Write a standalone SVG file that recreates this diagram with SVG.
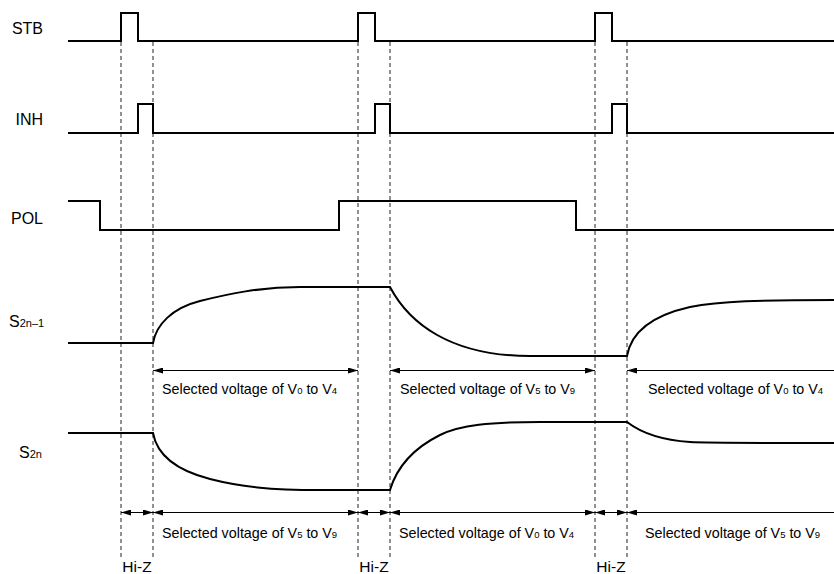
<svg xmlns="http://www.w3.org/2000/svg" width="834" height="574" viewBox="0 0 834 574">
<style>
  .sig{fill:none;stroke:#000;stroke-width:2;stroke-linejoin:miter}
  .dash{fill:none;stroke:#222;stroke-width:1;stroke-dasharray:4 3}
  .arr{fill:none;stroke:#000;stroke-width:1;marker-start:url(#ah);marker-end:url(#ah)}
  .arr1{fill:none;stroke:#000;stroke-width:1;marker-start:url(#ah)}
  .lbl{font-family:"Liberation Sans",Arial,sans-serif;font-size:16px;fill:#000}
  .txt{font-family:"Liberation Sans",Arial,sans-serif;font-size:14.3px;fill:#000}
  .sub{font-size:9.5px}
  .lsub{font-size:11px}
</style>
<defs>
  <marker id="ah" viewBox="0 0 10 6" refX="10" refY="3" markerWidth="10" markerHeight="6" orient="auto-start-reverse" markerUnits="userSpaceOnUse">
    <path d="M0,0 L10,3 L0,6 z" fill="#000"/>
  </marker>
</defs>
<rect width="834" height="574" fill="#fff"/>

<g id="connectors">
  <line class="dash" x1="121" y1="42" x2="121" y2="557"/>
  <line class="dash" x1="153" y1="42" x2="153" y2="557"/>
  <line class="dash" x1="358" y1="42" x2="358" y2="557"/>
  <line class="dash" x1="390" y1="42" x2="390" y2="557"/>
  <line class="dash" x1="595" y1="42" x2="595" y2="557"/>
  <line class="dash" x1="627" y1="42" x2="627" y2="557"/>
  <line class="arr" x1="153" y1="370.5" x2="358" y2="370.5"/>
  <line class="arr" x1="390" y1="370.5" x2="595" y2="370.5"/>
  <line class="arr1" x1="627" y1="370.5" x2="834" y2="370.5"/>
  <line class="arr" x1="121" y1="512.5" x2="153" y2="512.5"/>
  <line class="arr" x1="153" y1="512.5" x2="358" y2="512.5"/>
  <line class="arr" x1="358" y1="512.5" x2="390" y2="512.5"/>
  <line class="arr" x1="390" y1="512.5" x2="595" y2="512.5"/>
  <line class="arr" x1="595" y1="512.5" x2="627" y2="512.5"/>
  <line class="arr1" x1="627" y1="512.5" x2="834" y2="512.5"/>
</g>

<g id="STB">
  <text class="lbl" x="43" y="33.5" text-anchor="end">STB</text>
  <path class="sig" d="M68,41 H121 V13 H138 V41 H358 V13 H375 V41 H595 V13 H612 V41 H834"/>
</g>
<g id="INH">
  <text class="lbl" x="43" y="125" text-anchor="end">INH</text>
  <path class="sig" d="M68,133 H138 V104 H153 V133 H375 V104 H390 V133 H612 V104 H627 V133 H834"/>
</g>
<g id="POL">
  <text class="lbl" x="43" y="223.5" text-anchor="end">POL</text>
  <path class="sig" d="M68,201 H100 V230 H339 V201 H576 V230 H834"/>
</g>
<g id="S2n-1">
  <text class="lbl" x="9" y="326.5">S<tspan class="lsub">2n–1</tspan></text>
  <path class="sig" d="M68,343 H153 C156,325 172,308 200,301 C228,294 260,287 300,287 H390 C409,323 450,356 530,356 H627 C631,333 650,316 690,307 C720,301 760,300 834,300"/>
</g>
<g id="S2n">
  <text class="lbl" x="19" y="457.5">S<tspan class="lsub">2n</tspan></text>
  <path class="sig" d="M68,433 H153 C157,455 175,470 210,479 C240,486.7 270,490 320,490 H390 C396,470 410,450 440,435 C460,425 490,422 540,422 H627 C640,432 660,440 690,442 C710,443 740,443 834,443"/>
</g>

<g id="labels-upper">
  <text class="txt" x="162" y="393.5">Selected voltage of V<tspan class="sub">0</tspan> to V<tspan class="sub">4</tspan></text>
  <text class="txt" x="400" y="393.5">Selected voltage of V<tspan class="sub">5</tspan> to V<tspan class="sub">9</tspan></text>
  <text class="txt" x="648" y="393.5">Selected voltage of V<tspan class="sub">0</tspan> to V<tspan class="sub">4</tspan></text>
</g>
<g id="labels-lower">
  <text class="txt" x="162" y="538">Selected voltage of V<tspan class="sub">5</tspan> to V<tspan class="sub">9</tspan></text>
  <text class="txt" x="399" y="538">Selected voltage of V<tspan class="sub">0</tspan> to V<tspan class="sub">4</tspan></text>
  <text class="txt" x="645" y="538">Selected voltage of V<tspan class="sub">5</tspan> to V<tspan class="sub">9</tspan></text>
</g>
<g id="hiz">
  <text class="lbl" x="137" y="571.5" text-anchor="middle" style="font-size:15.5px">Hi-Z</text>
  <text class="lbl" x="374" y="571.5" text-anchor="middle" style="font-size:15.5px">Hi-Z</text>
  <text class="lbl" x="611" y="571.5" text-anchor="middle" style="font-size:15.5px">Hi-Z</text>
</g>
</svg>
